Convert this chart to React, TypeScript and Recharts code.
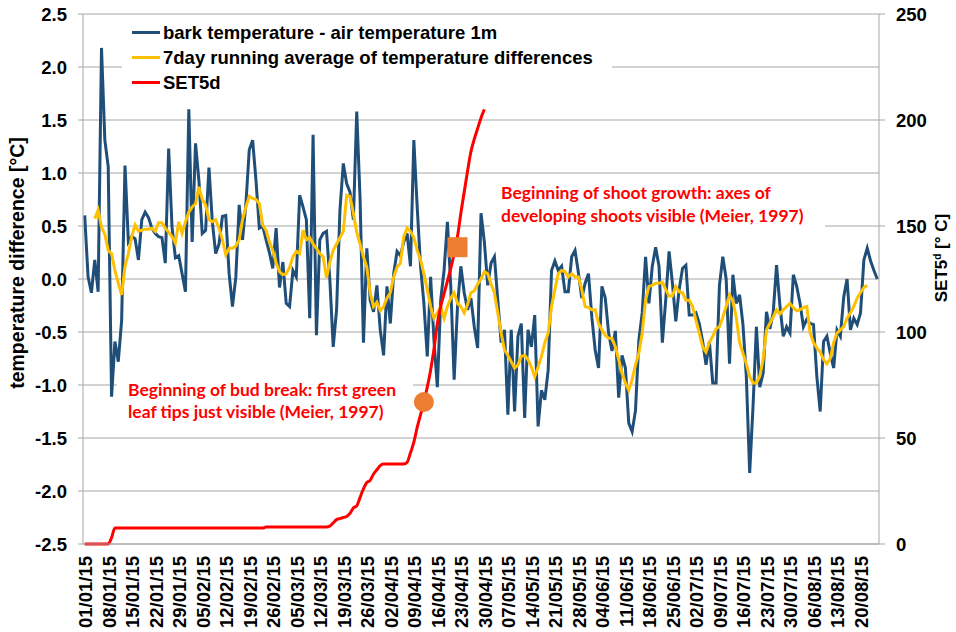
import React from 'react';
import { ComposedChart, Line, XAxis, YAxis, CartesianGrid, ReferenceDot } from 'recharts';

// ---- categories: one per day, 01/01/15 .. 25/08/15 ----
const MONTH_DAYS = [31, 28, 31, 30, 31, 30, 31, 31];
const DAY_COUNT = 237;
function buildDates(): string[] {
  const out: string[] = [];
  let m = 0;
  let d = 1;
  while (out.length < DAY_COUNT) {
    out.push(`${String(d).padStart(2, '0')}/${String(m + 1).padStart(2, '0')}/15`);
    d += 1;
    if (d > MONTH_DAYS[m]) { d = 1; m += 1; }
  }
  return out;
}
const dates = buildDates();

// ---- series values ----
const barkMinusAir: number[] = [
  0.60, 0.02, -0.13, 0.18, -0.12, 2.18, 1.31, 1.06, -1.11, -0.59,
  -0.78, -0.39, 1.07, 0.35, 0.40, 0.38, 0.18, 0.56, 0.63, 0.58,
  0.48, 0.43, 0.40, 0.39, 0.15, 1.23, 0.49, 0.20, 0.22, 0.05,
  -0.12, 1.60, 0.35, 1.28, 0.93, 0.43, 0.46, 1.05, 0.54, 0.24,
  0.33, 0.59, 0.60, 0.05, -0.26, 0.02, 0.70, 0.37, 0.71, 1.22,
  1.31, 0.93, 0.48, 0.50, 0.37, 0.25, 0.10, 0.48, -0.08, 0.16,
  -0.23, -0.26, 0.08, 0.02, 0.79, 0.68, 0.56, -0.37, 1.36, -0.53,
  0.37, 0.43, 0.45, -0.01, -0.64, -0.29, 0.65, 1.09, 0.90, 0.82,
  0.56, 1.58, 0.75, -0.60, 0.29, -0.20, -0.31, -0.06, -0.48, -0.72,
  -0.07, -0.42, 0.05, 0.26, 0.22, 0.35, 0.43, 0.12, 1.31, 0.68,
  0.12, -0.23, -0.73, 0.02, -0.58, -1.02, -0.20, 0.08, 0.54, -0.07,
  -0.95, -0.26, 0.12, -0.13, -0.29, -0.18, -0.45, -0.65, 0.62, 0.35,
  -0.06, 0.15, 0.21, -0.20, -0.60, -0.48, -1.28, -0.48, -1.25, -0.54,
  -0.42, -1.31, -0.48, -0.64, -0.34, -1.39, -1.05, -1.14, -0.86, 0.08,
  0.17, 0.08, 0.12, -0.12, -0.12, 0.21, 0.27, 0.06, -0.18, -0.04,
  0.05, -0.36, -0.67, -0.84, -0.07, -0.18, -0.51, -0.68, -0.49, -1.12,
  -0.72, -0.84, -1.36, -1.44, -1.24, -0.58, -0.32, 0.21, -0.23, 0.12,
  0.30, 0.12, -0.60, -0.20, 0.26, -0.04, -0.40, -0.10, 0.10, 0.13,
  -0.34, -0.34, -0.32, -0.42, -0.59, -0.81, -0.59, -0.98, -0.98, -0.06,
  0.21, 0.00, -0.80, 0.04, -0.23, -0.15, -0.43, -0.92, -1.83, -1.20,
  -0.45, -1.02, -0.89, -0.31, -0.47, -0.32, 0.13, -0.25, -0.54, -0.45,
  -0.51, 0.04, -0.07, -0.23, -0.45, -0.38, -0.42, -0.43, -0.92, -1.25,
  -0.59, -0.54, -0.70, -0.84, -0.48, -0.54, -0.17, 0.00, -0.48, -0.37,
  -0.43, -0.32, 0.18, 0.29, 0.17, 0.08, 0.00,
];

const runningAvg7d: (number | null)[] = [
  null, null, null, 0.57, 0.65, 0.49, 0.42, 0.27, 0.24, 0.08,
  -0.04, -0.15, 0.12, 0.24, 0.40, 0.51, 0.45, 0.46, 0.47, 0.47,
  0.48, 0.45, 0.53, 0.53, 0.48, 0.44, 0.40, 0.34, 0.54, 0.43,
  0.54, 0.63, 0.68, 0.71, 0.87, 0.75, 0.70, 0.56, 0.54, 0.56,
  0.48, 0.37, 0.23, 0.29, 0.29, 0.31, 0.37, 0.56, 0.68, 0.78,
  0.76, 0.75, 0.71, 0.51, 0.46, 0.35, 0.27, 0.15, 0.07, 0.04,
  0.05, 0.11, 0.21, 0.26, 0.24, 0.46, 0.37, 0.39, 0.33, 0.29,
  0.24, 0.21, 0.01, 0.16, 0.27, 0.33, 0.39, 0.45, 0.79, 0.78,
  0.62, 0.44, 0.33, 0.21, 0.11, -0.13, -0.26, -0.22, -0.30, -0.26,
  -0.18, -0.13, 0.02, 0.11, 0.15, 0.40, 0.48, 0.45, 0.39, 0.27,
  0.18, 0.05, -0.10, -0.26, -0.37, -0.32, -0.26, -0.37, -0.26, -0.18,
  -0.13, -0.23, -0.26, -0.32, -0.24, -0.13, -0.11, -0.05, 0.00, 0.07,
  0.05, -0.05, -0.13, -0.32, -0.51, -0.67, -0.72, -0.78, -0.84, -0.81,
  -0.73, -0.72, -0.76, -0.83, -0.92, -0.83, -0.73, -0.60, -0.51, -0.26,
  -0.10, 0.05, 0.08, 0.07, 0.02, 0.05, 0.02, 0.02, -0.10, -0.26,
  -0.27, -0.29, -0.29, -0.42, -0.48, -0.53, -0.56, -0.56, -0.64, -0.76,
  -0.89, -0.98, -1.05, -0.95, -0.81, -0.70, -0.51, -0.20, -0.07, -0.06,
  -0.04, -0.04, -0.03, -0.10, -0.16, -0.16, -0.07, -0.12, -0.13, -0.20,
  -0.20, -0.26, -0.39, -0.51, -0.64, -0.69, -0.60, -0.54, -0.47, -0.45,
  -0.36, -0.26, -0.15, -0.21, -0.36, -0.60, -0.70, -0.80, -0.92, -0.98,
  -0.98, -0.92, -0.76, -0.48, -0.42, -0.36, -0.29, -0.33, -0.29, -0.26,
  -0.23, -0.27, -0.30, -0.29, -0.27, -0.26, -0.51, -0.60, -0.65, -0.69,
  -0.76, -0.80, -0.75, -0.60, -0.51, -0.48, -0.45, -0.37, -0.32, -0.26,
  -0.18, -0.13, -0.08, -0.06, null, null, null,
];

const set5d: number[] = [
  0, 0, 0, 0, 0, 0, 0, 0, 3, 7.5,
  7.5, 7.5, 7.5, 7.5, 7.5, 7.5, 7.5, 7.5, 7.5, 7.5,
  7.5, 7.5, 7.5, 7.5, 7.5, 7.5, 7.5, 7.5, 7.5, 7.5,
  7.5, 7.5, 7.5, 7.5, 7.5, 7.5, 7.5, 7.5, 7.5, 7.5,
  7.5, 7.5, 7.5, 7.5, 7.5, 7.5, 7.5, 7.5, 7.5, 7.5,
  7.5, 7.5, 7.5, 7.5, 8, 8, 8, 8, 8, 8,
  8, 8, 8, 8, 8, 8, 8, 8, 8, 8,
  8, 8, 8, 8.5, 10, 11.5, 12, 12.5, 13, 14.5,
  17, 18, 22, 26, 29, 30, 33, 35, 37, 37.7,
  37.7, 37.7, 37.7, 37.7, 37.7, 37.7, 38.5, 43, 48, 55,
  61, 67, 74, 82, 92, 104, 112, 118, 124, 130,
  137, 145, 156, 166, 176, 185, 191, 196, 201, 205,
];

const leftTicks = [-2.5, -2, -1.5, -1, -0.5, 0, 0.5, 1, 1.5, 2, 2.5];
const rightTicks = [0, 50, 100, 150, 200, 250];

const budBreakDate = '12/04/15';
const budBreakSet5d = 67;
const shootGrowthDate = '22/04/15';
const shootGrowthSet5d = 140;

const seriesNames = {
  bark: 'bark temperature - air temperature 1m',
  avg: '7day running average of temperature differences',
  set5d: 'SET5d',
};

const data = dates.map((date, i) => ({
  date,
  bark: barkMinusAir[i],
  avg: runningAvg7d[i] ?? null,
  set5d: set5d[i] ?? null,
}));

// ---- styles ----
const BLUE = '#1F4E79';
const YELLOW = '#FFC000';
const RED = '#FF0000';
const ORANGE = '#ED7D31';
const GRID = '#A6A6A6';
const ARIAL = '"Liberation Sans", Arial, sans-serif';
const CALIBRI = 'Lato, "Liberation Sans", sans-serif';

const DateTick = (props: any) => {
  const { x, y, payload } = props;
  return (
    <text
      x={x + 1}
      y={y}
      transform={`rotate(-90 ${x + 1} ${y})`}
      textAnchor="end"
      dominantBaseline="central"
      fill="#000"
      fontSize={18.5}
      fontWeight={700}
      fontFamily={ARIAL}
    >
      {payload.value}
    </text>
  );
};

const tickStyle = { fill: '#000', fontSize: 18.5, fontWeight: 700, fontFamily: ARIAL };

const SquareShape = (p: any) => (
  <rect x={p.cx - 10} y={p.cy - 10} width={20} height={20} fill={ORANGE} />
);

const legendRows = [
  { key: 'bark', color: BLUE, label: seriesNames.bark },
  { key: 'avg', color: YELLOW, label: seriesNames.avg },
  { key: 'set5d', color: RED, label: seriesNames.set5d },
];

export default function App() {
  return (
    <div style={{ position: 'absolute', left: 0, top: 0, width: 956, height: 632, background: '#fff' }}>
      <ComposedChart
        width={956}
        height={632}
        data={data}
        margin={{ top: 14, right: 0, bottom: 0, left: 0 }}
      >
        <CartesianGrid yAxisId="left" vertical={false} stroke={GRID} strokeWidth={1} />
        <XAxis
          dataKey="date"
          interval={6}
          height={88}
          padding={{ left: 1.7, right: 1.7 }}
          tick={<DateTick />}
          tickLine={false}
          tickSize={6}
          tickMargin={6}
          axisLine={{ stroke: GRID }}
        />
        <YAxis
          yAxisId="left"
          domain={[-2.5, 2.5]}
          ticks={leftTicks}
          interval={0}
          width={83}
          tickFormatter={(v: number) => v.toFixed(1)}
          tick={tickStyle}
          tickSize={5}
          tickMargin={11}
          tickLine={{ stroke: GRID }}
          axisLine={{ stroke: GRID }}
        />
        <YAxis
          yAxisId="right"
          orientation="right"
          domain={[0, 250]}
          ticks={rightTicks}
          interval={0}
          width={77}
          tick={{ ...tickStyle, textAnchor: 'start' }}
          tickSize={6}
          tickMargin={11}
          tickLine={{ stroke: GRID }}
          axisLine={{ stroke: GRID }}
        />
        <Line
          yAxisId="left"
          type="linear"
          dataKey="bark"
          name={seriesNames.bark}
          stroke={BLUE}
          strokeWidth={3}
          dot={false}
          activeDot={false}
          isAnimationActive={false}
        />
        <Line
          yAxisId="left"
          type="linear"
          dataKey="avg"
          name={seriesNames.avg}
          stroke={YELLOW}
          strokeWidth={3}
          dot={false}
          activeDot={false}
          isAnimationActive={false}
        />
        <Line
          yAxisId="right"
          type="monotone"
          dataKey="set5d"
          name={seriesNames.set5d}
          stroke={RED}
          strokeWidth={3}
          dot={false}
          activeDot={false}
          isAnimationActive={false}
        />
        <ReferenceDot
          yAxisId="right"
          x={budBreakDate}
          y={budBreakSet5d}
          r={10}
          fill={ORANGE}
          stroke="none"
        />
        <ReferenceDot
          yAxisId="right"
          x={shootGrowthDate}
          y={shootGrowthSet5d}
          r={10}
          shape={SquareShape}
        />
      </ComposedChart>

      {/* legend */}
      <div style={{ position: 'absolute', left: 122, top: 19, width: 490, height: 76, background: '#fff' }}>
        {legendRows.map((row, i) => (
          <div
            key={row.key}
            style={{
              position: 'absolute',
              left: 0,
              top: 1 + i * 25,
              height: 25,
              display: 'flex',
              alignItems: 'center',
              whiteSpace: 'nowrap',
            }}
          >
            <div style={{ marginLeft: 10, width: 28, height: 3, background: row.color }} />
            <span
              style={{
                marginLeft: 3,
                fontFamily: ARIAL,
                fontWeight: 700,
                fontSize: 18.5,
                color: '#000',
              }}
            >
              {row.label}
            </span>
          </div>
        ))}
      </div>

      {/* annotations */}
      <div
        style={{
          position: 'absolute',
          left: 117,
          top: 372,
          width: 296,
          height: 53,
          boxSizing: 'border-box',
          paddingLeft: 11,
          paddingTop: 7,
          background: '#fff',
          color: RED,
          fontFamily: CALIBRI,
          fontWeight: 700,
          fontSize: 17.5,
          lineHeight: '22px',
          whiteSpace: 'nowrap',
        }}
      >
        <div>Beginning of bud break: first green</div>
        <div>leaf tips just visible (Meier, 1997)</div>
      </div>
      <div
        style={{
          position: 'absolute',
          left: 490,
          top: 175,
          width: 335,
          height: 53,
          boxSizing: 'border-box',
          paddingLeft: 11,
          paddingTop: 6,
          background: '#fff',
          color: RED,
          fontFamily: CALIBRI,
          fontWeight: 700,
          fontSize: 17.5,
          lineHeight: '23px',
          whiteSpace: 'nowrap',
        }}
      >
        <div>Beginning of shoot growth: axes of</div>
        <div>developing shoots visible (Meier, 1997)</div>
      </div>

      {/* axis titles */}
      <div
        style={{
          position: 'absolute',
          left: 17,
          top: 263,
          transform: 'translate(-50%, -50%) rotate(-90deg)',
          whiteSpace: 'nowrap',
          fontFamily: ARIAL,
          fontWeight: 700,
          fontSize: 19.5,
          color: '#000',
        }}
      >
        temperature difference [°C]
      </div>
      <div
        style={{
          position: 'absolute',
          left: 942,
          top: 258,
          transform: 'translate(-50%, -50%) rotate(-90deg)',
          whiteSpace: 'nowrap',
          fontFamily: ARIAL,
          fontWeight: 700,
          fontSize: 17,
          color: '#000',
        }}
      >
        SET5<sup style={{ fontSize: 10 }}>d</sup> [° C]
      </div>
    </div>
  );
}
